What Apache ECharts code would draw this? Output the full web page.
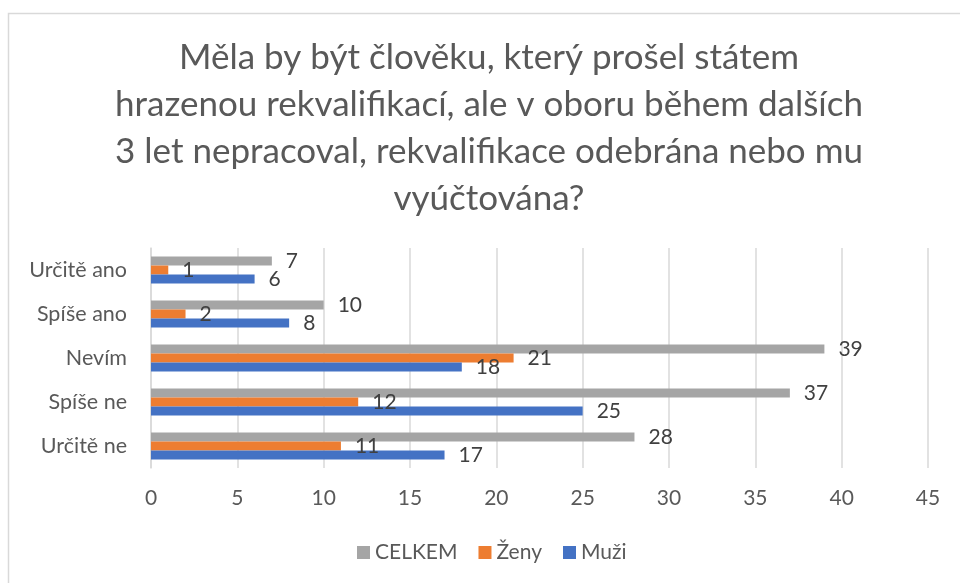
<!DOCTYPE html>
<html><head><meta charset="utf-8">
<script src="https://cdn.jsdelivr.net/npm/echarts@6/dist/echarts.min.js"></script>
<style>html,body{margin:0;padding:0;background:#fff}#c{width:960px;height:583px}</style>
</head><body><div id="c"></div>
<script>
const categories = ['Určitě ano', 'Spíše ano', 'Nevím', 'Spíše ne', 'Určitě ne'];
const celkem = [7, 10, 39, 37, 28];
const zeny = [1, 2, 21, 12, 11];
const muzi = [6, 8, 18, 25, 17];
const xTicks = [0, 5, 10, 15, 20, 25, 30, 35, 40, 45];
const titleText = 'Měla by být člověku, který prošel státem\nhrazenou rekvalifikací, ale v oboru během dalších\n3 let nepracoval, rekvalifikace odebrána nebo mu\nvyúčtována?';

const FONT = 'Lato';
const chart = echarts.init(document.getElementById('c'));
const lbl = {show: true, position: 'right', distance: 14, color: '#404040', fontSize: 21, fontFamily: FONT};
function mk(name, data, color) {
  return {name, type: 'bar', data, itemStyle: {color}, barGap: '0%', barCategoryGap: '39%', label: lbl, silent: true};
}
chart.setOption({
  animation: false,
  textStyle: {fontFamily: FONT},
  graphic: [
    {type: 'rect', shape: {x: 8.5, y: 13.5, width: 1200, height: 1000}, style: {fill: null, stroke: '#D9D9D9', lineWidth: 1.5}, silent: true},
    {type: 'text', x: 489, y: 34, silent: true,
     style: {text: titleText, align: 'center', verticalAlign: 'top', fontSize: 35, lineHeight: 47, fill: '#595959', fontFamily: FONT, fontWeight: 'normal'}}
  ],
  legend: {
    data: ['CELKEM', 'Ženy', 'Muži'], bottom: 20, left: 357, padding: 0, icon: 'rect', itemWidth: 13, itemHeight: 13, itemGap: 21, itemStyle: {borderWidth: 0},
    textStyle: {fontSize: 21, color: '#595959', fontFamily: FONT}
  },
  grid: {left: 151, right: 32, top: 248, bottom: 115, containLabel: false},
  xAxis: {
    type: 'value', min: xTicks[0], max: xTicks[xTicks.length - 1], interval: xTicks[1] - xTicks[0],
    axisLine: {show: false}, axisTick: {show: false},
    splitLine: {lineStyle: {color: '#D9D9D9', width: 1.5}},
    axisLabel: {fontSize: 21, color: '#595959', margin: 20, fontFamily: FONT}
  },
  yAxis: {
    type: 'category', data: categories, inverse: true,
    axisLine: {lineStyle: {color: '#D9D9D9', width: 1.5}}, axisTick: {show: false},
    axisLabel: {fontSize: 21.5, color: '#595959', margin: 24, fontFamily: FONT}
  },
  series: [mk('CELKEM', celkem, '#A5A5A5'), mk('Ženy', zeny, '#ED7D31'), mk('Muži', muzi, '#4472C4')]
});
</script></body></html>
